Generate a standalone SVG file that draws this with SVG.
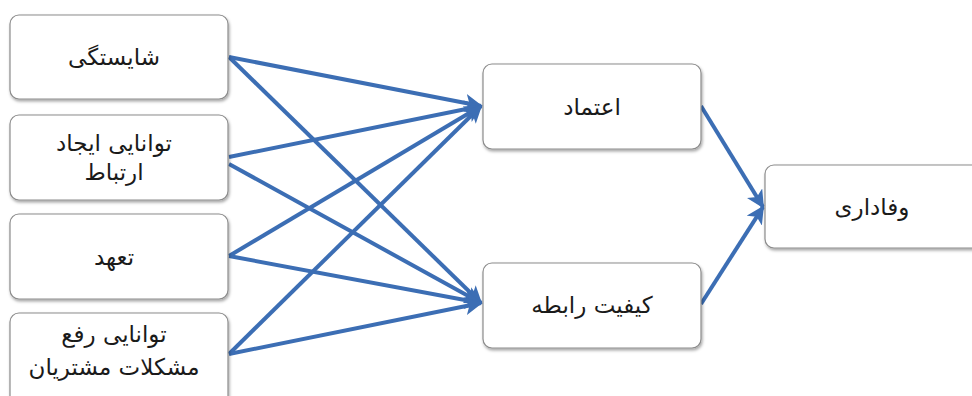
<svg xmlns="http://www.w3.org/2000/svg" width="972" height="396" viewBox="0 0 972 396">
<style>
.box{fill:#fff;stroke:#8c8c8c;stroke-width:1.2;filter:url(#sh)}
.t{font-family:"DejaVu Sans","Noto Sans",sans-serif;font-size:23px;fill:#1a1a1a;text-anchor:middle;direction:rtl}
.c{stroke:#3c6eb4;stroke-width:4;fill:none;marker-end:url(#ah)}
</style>
<defs>
<filter id="sh" x="-10%" y="-10%" width="120%" height="130%">
<feDropShadow dx="1" dy="2" stdDeviation="1.5" flood-color="#000" flood-opacity="0.35"/>
</filter>
<marker id="ah" viewBox="0 0 10 10" refX="9" refY="5" markerWidth="4.5" markerHeight="4.5" orient="auto" markerUnits="strokeWidth">
<path d="M0,0 L10,5 L0,10 L2.5,5 Z" fill="#3c6eb4"/>
</marker>
</defs>
<rect width="972" height="396" fill="#fff"/>
<g id="connectors">
<line class="c" x1="229" y1="57" x2="481" y2="106"/>
<line class="c" x1="229" y1="57" x2="481" y2="303"/>
<line class="c" x1="229" y1="157" x2="481" y2="106"/>
<line class="c" x1="229" y1="164" x2="481" y2="303"/>
<line class="c" x1="229" y1="256" x2="481" y2="106"/>
<line class="c" x1="229" y1="256" x2="481" y2="303"/>
<line class="c" x1="229" y1="354" x2="481" y2="106"/>
<line class="c" x1="229" y1="354" x2="481" y2="303"/>
<line class="c" x1="701" y1="106" x2="763" y2="207"/>
<line class="c" x1="701" y1="304" x2="763" y2="207"/>
</g>
<g id="n1"><rect class="box" x="10" y="15" width="218" height="84" rx="9"/><text class="t" x="114" y="65">شایستگی</text></g>
<g id="n2"><rect class="box" x="10" y="115" width="218" height="85" rx="9"/><text class="t" x="114" y="151">توانایی ایجاد</text><text class="t" x="114" y="180">ارتباط</text></g>
<g id="n3"><rect class="box" x="10" y="214" width="218" height="85" rx="9"/><text class="t" x="114" y="265">تعهد</text></g>
<g id="n4"><rect class="box" x="10" y="313" width="218" height="95" rx="9"/><text class="t" x="114" y="342">توانایی رفع</text><text class="t" x="114" y="375">مشکلات مشتریان</text></g>
<g id="n5"><rect class="box" x="483" y="64" width="218" height="85" rx="9"/><text class="t" x="592" y="115">اعتماد</text></g>
<g id="n6"><rect class="box" x="483" y="263" width="218" height="85" rx="9"/><text class="t" x="592" y="313">کیفیت رابطه</text></g>
<g id="n7"><rect class="box" x="765" y="165" width="220" height="83" rx="9"/><text class="t" x="872" y="215">وفاداری</text></g>
</svg>
